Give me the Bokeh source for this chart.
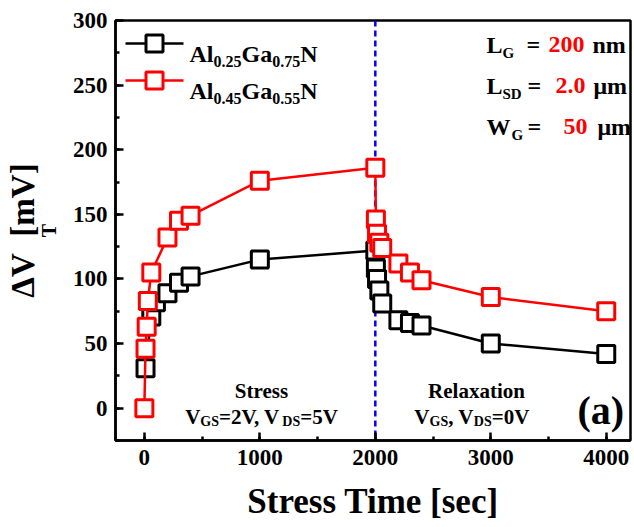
import math
from bokeh.plotting import figure
from bokeh.models import Label, Span, SingleIntervalTicker, Range1d, Title
from bokeh.embed import file_html
from bokeh.resources import INLINE

# ---------------- data ----------------
black_time = [10, 60, 100, 200, 300, 400, 1000, 2000,
              2005, 2015, 2035, 2060, 2200, 2300, 2400, 3000, 4000]
black_dvt = [31, 71, 82, 89, 97, 102, 115, 122,
             108, 100, 91, 81, 68, 66, 64, 50, 42]
red_time = [0, 10, 20, 30, 60, 200, 300, 400, 1000, 2000,
            2005, 2015, 2035, 2060, 2200, 2300, 2400, 3000, 4000]
red_dvt = [0, 46, 63, 83, 105, 132, 145, 149, 176, 186,
           146, 135, 128, 124, 112, 105, 99, 86, 75]
series_names = [("0.25", "0.75"), ("0.45", "0.55")]
stress_end = 2000
x_tick_interval = 1000
y_tick_interval = 50

# ---------------- geometry ----------------
X0, X1 = -250, 4210
Y0, Y1 = -25, 300
FL, FT, FW, FH = 115, 20, 515, 420   # frame position in the picture (px)
FONT = "Liberation Serif"
NB = "\u00a0"

def px2x(px):
    return X0 + (px - FL) / FW * (X1 - X0)

def py2y(py):
    return Y1 - (py - FT) / FH * (Y1 - Y0)

W = {' ': 250, '!': 333, '(': 333, ')': 333, ',': 250, '-': 333, '.': 250, '/': 278,
     ':': 333, '=': 570, '[': 333, ']': 333,
     'A': 722, 'B': 667, 'C': 722, 'D': 722, 'E': 667, 'F': 611, 'G': 778, 'H': 778,
     'I': 389, 'J': 500, 'K': 778, 'L': 667, 'M': 944, 'N': 722, 'O': 778, 'P': 611,
     'Q': 778, 'R': 722, 'S': 556, 'T': 667, 'U': 722, 'V': 722, 'W': 1000, 'X': 722,
     'Y': 722, 'Z': 667,
     'a': 500, 'b': 556, 'c': 444, 'd': 556, 'e': 444, 'f': 333, 'g': 500, 'h': 556,
     'i': 278, 'j': 333, 'k': 556, 'l': 278, 'm': 833, 'n': 556, 'o': 500, 'p': 556,
     'q': 556, 'r': 444, 's': 389, 't': 333, 'u': 556, 'v': 500, 'w': 722, 'x': 500,
     'y': 500, 'z': 444, 'μ': 556, 'Δ': 612}

def tw(s, size):
    return sum(W.get(c, 500) for c in s) / 1000.0 * size

p = figure(frame_width=FW, frame_height=FH, output_backend="svg", toolbar_location=None,
           x_range=Range1d(X0, X1), y_range=Range1d(Y0, Y1),
           min_border_left=FL, min_border_top=FT, min_border_right=4, min_border_bottom=87)
p.background_fill_color = "white"
p.border_fill_color = "white"
p.outline_line_color = "black"
p.outline_line_width = 2.5
p.grid.visible = False

p.xaxis.ticker = SingleIntervalTicker(interval=x_tick_interval, num_minor_ticks=2)
p.yaxis.ticker = SingleIntervalTicker(interval=y_tick_interval, num_minor_ticks=2)
for ax in (p.xaxis[0], p.yaxis[0]):
    ax.axis_line_width = 2.5
    ax.axis_line_color = "black"
    ax.major_tick_in = 8
    ax.major_tick_out = 0
    ax.minor_tick_in = 4
    ax.minor_tick_out = 0
    ax.major_tick_line_width = 2.5
    ax.minor_tick_line_width = 2.5
    ax.major_label_text_font = FONT
    ax.major_label_text_font_style = "bold"
    ax.major_label_text_font_size = "23px"
    ax.major_label_text_color = "black"
    ax.axis_label_text_font = FONT
    ax.axis_label_text_font_style = "bold"
    ax.axis_label_text_color = "black"
p.xaxis.major_label_standoff = 9
p.yaxis.major_label_standoff = 8

# y-axis title: subscript "T" as the axis label, main text as an outer Title
p.yaxis.axis_label = "T"
p.yaxis.axis_label_text_font_size = "20px"
p.yaxis.axis_label_standoff = 10
ytitle = Title(text="ΔV" + NB + " [mV]", align="center", offset=15, standoff=-12,
               text_font=FONT, text_font_style="bold", text_font_size="33px",
               text_color="black")
p.add_layout(ytitle, "left")

xtitle = Title(text="Stress Time [sec]", align="center", offset=2, standoff=25,
               text_font=FONT, text_font_style="bold", text_font_size="35px",
               text_color="black")
p.add_layout(xtitle, "below")

p.add_layout(Span(location=stress_end, dimension="height", line_color="blue",
                  line_width=2.5, line_dash="6 4", level="underlay"))

# data
p.line(black_time, black_dvt, line_color="black", line_width=2.5)
p.scatter(black_time, black_dvt, marker="square", size=17, fill_color="white",
          line_color="black", line_width=3)
p.line(red_time, red_dvt, line_color="red", line_width=2.5)
p.scatter(red_time, red_dvt, marker="square", size=17, fill_color="white",
          line_color="red", line_width=3)

# legend swatches
for col, py in (("black", 43), ("red", 80)):
    p.line([px2x(125), px2x(183)], [py2y(py), py2y(py)], line_color=col, line_width=2.5)
    p.scatter([px2x(154)], [py2y(py)], marker="square", size=17, fill_color="white",
              line_color=col, line_width=3)

def put(px, py, text, size, color="black", align="left", angle=0):
    p.add_layout(Label(x=px2x(px), y=py2y(py), text=text, text_font=FONT,
                       text_font_style="bold", text_font_size=f"{size}px",
                       text_color=color, text_align=align, text_baseline="alphabetic",
                       angle=angle, angle_units="deg"))

def rich(px, py, segs):
    """segs: (text, size, color, dy) laid out horizontally from px."""
    x = px
    for text, size, color, dy in segs:
        put(x, py + dy, text, size, color)
        x += tw(text, size)

def rich_center(cx, py, segs):
    total = sum(tw(t, s) for t, s, c, d in segs)
    rich(cx - total / 2, py, segs)

# legend texts
for (a, b), py in zip(series_names, (53, 90)):
    rich(189, py, [("Al", 24, "black", 0), (a, 16, "black", 8),
                   ("Ga", 24, "black", 0), (b, 16, "black", 8),
                   ("N", 24, "black", 0)])

# device parameters (top right)
put(486, 44, "L", 24); put(502, 52, "G", 15)
put(526, 44, "=", 24); put(548, 44, "200", 24, "red"); put(592, 44, "nm", 24)
put(486, 85, "L", 24); put(502, 93, "SD", 15)
put(527, 85, "=", 24); put(555, 85, "2.0", 24, "red"); put(593, 85, "μm", 24)
put(486, 126, "W", 24); put(511, 134, "G", 15)
put(527, 126, "=", 24); put(563, 126, "50", 24, "red"); put(597, 126, "μm", 24)

# phase annotations
put(261, 390, "Stress", 21, align="center")
rich_center(261, 416, [("V", 21, "black", 0), ("GS", 14, "black", 5),
                       ("=2V, V", 21, "black", 0), ("DS", 14, "black", 5),
                       ("=5V", 21, "black", 0)])
put(476, 390, "Relaxation", 21, align="center")
rich_center(474, 416, [("V", 21, "black", 0), ("GS", 14, "black", 5),
                       (", V", 21, "black", 0), ("DS", 14, "black", 5),
                       (" =0V", 21, "black", 0)])
put(577, 410, "(a)", 40)

open("out.html", "w").write(file_html(p, INLINE))
